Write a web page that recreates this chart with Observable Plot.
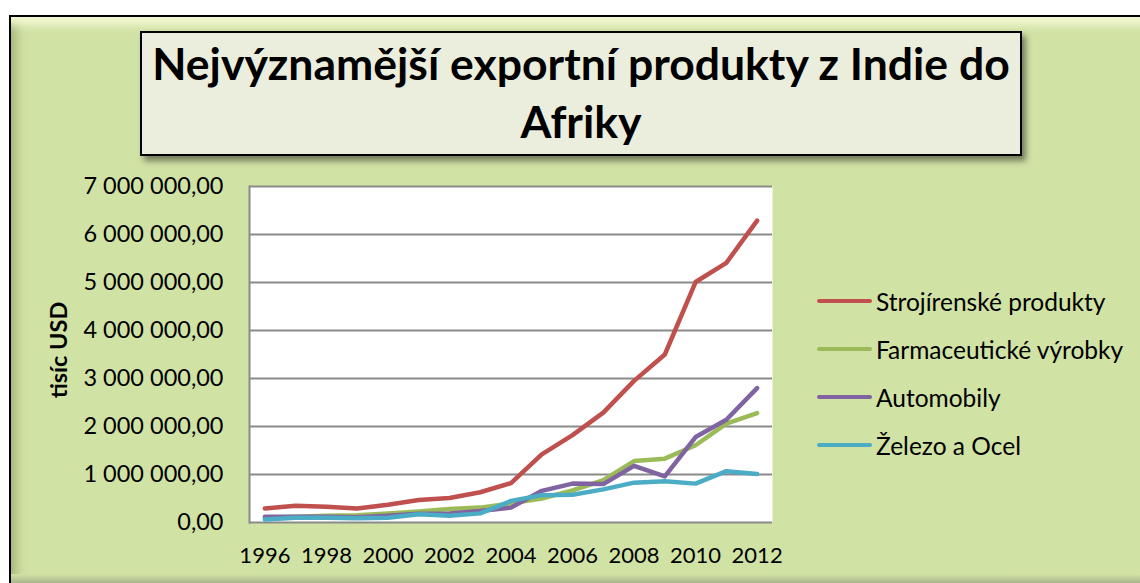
<!DOCTYPE html>
<html>
<head>
<meta charset="utf-8">
<script src="https://cdn.jsdelivr.net/npm/d3@7"></script>
<script src="https://cdn.jsdelivr.net/npm/@observablehq/plot@0.6"></script>
<style>
  html, body { margin: 0; padding: 0; background: #fff; width: 1140px; height: 583px; overflow: hidden; font-family: Lato, "Open Sans", sans-serif; }
  #frame { position: absolute; left: 9px; top: 15px; width: 1160px; height: 590px; box-sizing: border-box;
    background: #D1E2A5; border: 2px solid #000;
    box-shadow: inset 0 16px 10px -8px #F2F8D2, inset 14px 0 12px -10px rgba(110,130,70,0.55); }
  #bottomEdge { position: absolute; left: 11px; top: 574px; width: 1140px; height: 9px;
    background: linear-gradient(#D1E2A5, #A9B58C); }
  #titlebox { position: absolute; left: 140px; top: 31px; width: 882px; height: 125px; box-sizing: border-box;
    background: #EBEEDD; border: 2px solid #000; box-shadow: 4px 5px 6px rgba(0,0,0,0.45); }
  #title { text-align: center; font-weight: bold; font-size: 44.5px; line-height: 58px; padding-top: 1px; color: #000; }
  #ylabel { position: absolute; left: 58px; top: 350px; transform: translate(-50%, -50%) rotate(-90deg);
    font-weight: bold; font-size: 23.5px; white-space: nowrap; color: #000; }
  #chart { position: absolute; left: 0; top: 170px; }
  #legend { position: absolute; left: 817px; top: 277px; }
  .row { height: 48px; display: flex; align-items: center; font-size: 24.5px; color: #000; white-space: nowrap; }
  .sw { width: 55px; height: 4px; border-radius: 2px; margin-right: 4px; }
</style>
</head>
<body>
<div id="frame"></div>
<div id="bottomEdge"></div>
<div id="titlebox"><div id="title">Nejvýznamější exportní produkty z Indie do<br>Afriky</div></div>
<div id="ylabel">tisíc USD</div>
<div id="chart"></div>
<div id="legend"></div>
<script>
const years = [1996,1997,1998,1999,2000,2001,2002,2003,2004,2005,2006,2007,2008,2009,2010,2011,2012];
const seriesNames = ["Strojírenské produkty", "Farmaceutické výrobky", "Automobily", "Železo a Ocel"];
const seriesColors = ["#C0504D", "#9BBB59", "#8064A2", "#4BACC6"];
const strojirenske = [290000,350000,330000,290000,370000,470000,510000,630000,820000,1420000,1820000,2290000,2950000,3500000,5010000,5410000,6290000];
const farmaceuticke = [90000,120000,140000,150000,190000,230000,280000,310000,400000,500000,670000,880000,1280000,1330000,1610000,2060000,2280000];
const automobily = [120000,120000,120000,110000,140000,180000,190000,240000,310000,660000,810000,800000,1180000,960000,1780000,2140000,2800000];
const zelezo = [60000,100000,100000,90000,100000,170000,140000,190000,450000,570000,580000,690000,830000,860000,810000,1070000,1010000];
const yTicks = [0,1000000,2000000,3000000,4000000,5000000,6000000,7000000];
const xTickYears = [1996,1998,2000,2002,2004,2006,2008,2010,2012];

const seriesValues = [strojirenske, farmaceuticke, automobily, zelezo];
const data = [];
seriesNames.forEach((name, s) => years.forEach((yr, i) => data.push({series: name, year: yr, value: seriesValues[s][i]})));

const cz = d3.formatLocale({decimal: ",", thousands: " ", grouping: [3], currency: ["", " Kč"]});
const fmt = cz.format(",.2f");

const chart = Plot.plot({
  width: 800,
  height: 413,
  marginLeft: 249,
  marginRight: 28,
  marginTop: 16,
  marginBottom: 61,
  style: {background: "transparent", fontFamily: "Lato, 'Open Sans', sans-serif", fontSize: "22px", color: "#000"},
  x: {type: "point", domain: years, padding: 0.5, round: false},
  y: {domain: [0, 7000000]},
  color: {domain: seriesNames, range: seriesColors},
  marks: [
    Plot.frame({fill: "white", stroke: "none"}),
    Plot.ruleY(yTicks, {stroke: "#8A8A8A", strokeWidth: 2}),
    Plot.frame({anchor: "left", stroke: "#8A8A8A", strokeWidth: 2}),
    Plot.axisX({ticks: xTickYears, tickFormat: d => String(d), tickSize: 0, tickPadding: 25, label: null, fontSize: 22}),
    Plot.axisY({ticks: yTicks, tickFormat: fmt, tickSize: 0, tickPadding: 26, label: null, fontSize: 23.5}),
    Plot.line(data, {x: "year", y: "value", z: "series", stroke: "series", strokeWidth: 4.5, strokeLinecap: "round", strokeLinejoin: "round"})
  ]
});
document.getElementById("chart").appendChild(chart);

const legend = document.getElementById("legend");
seriesNames.forEach((name, i) => {
  const row = document.createElement("div");
  row.className = "row";
  const sw = document.createElement("div");
  sw.className = "sw";
  sw.style.background = seriesColors[i];
  const t = document.createElement("span");
  t.textContent = name;
  row.appendChild(sw); row.appendChild(t);
  legend.appendChild(row);
});
</script>
</body>
</html>
